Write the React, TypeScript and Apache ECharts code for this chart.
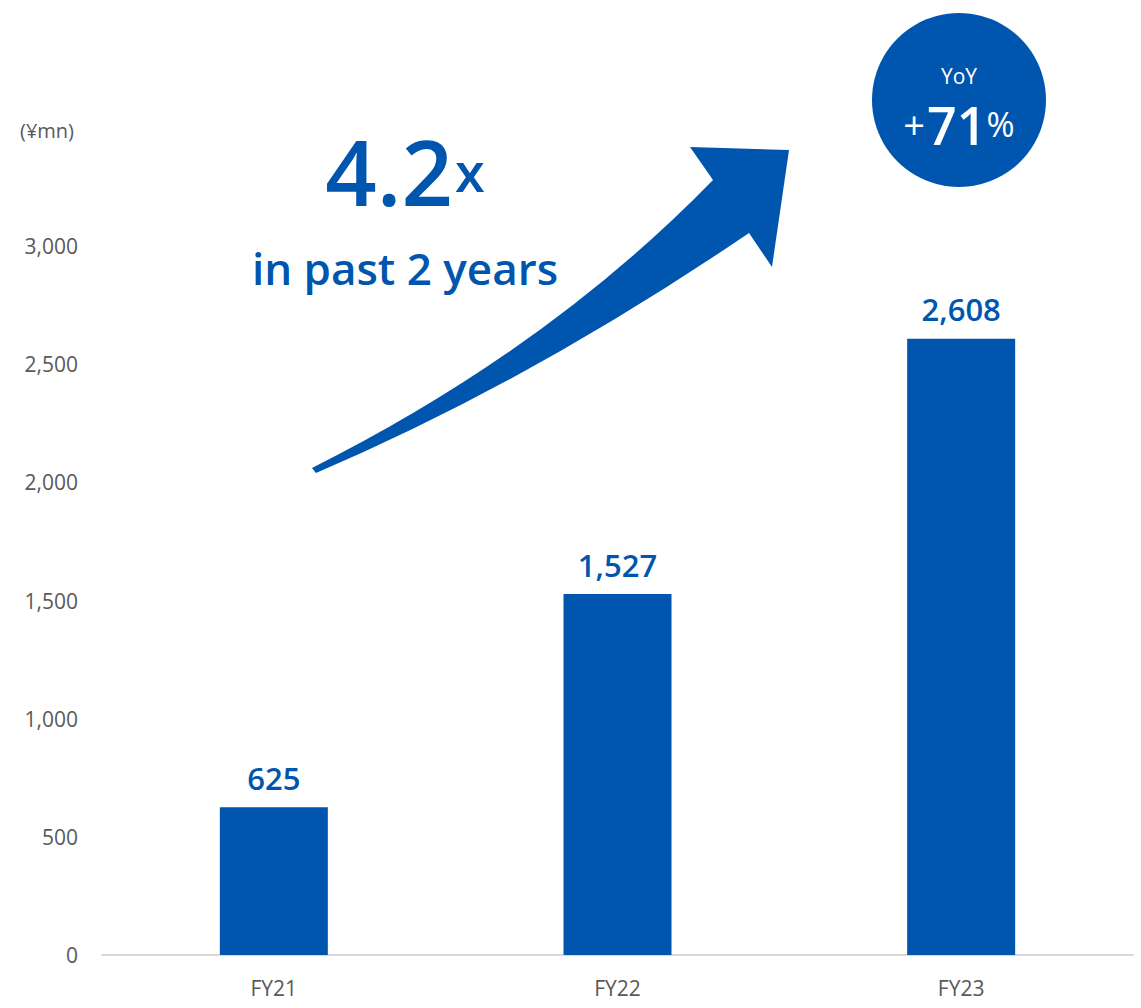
import React, { useEffect, useRef } from "react";
import * as echarts from "echarts";

const categories = ["FY21", "FY22", "FY23"];
const values = [625, 1527, 2608];
const yTicks = [0, 500, 1000, 1500, 2000, 2500, 3000];
const unitLabel = "(¥mn)";
const headline = "4.2";
const headlineSuffix = "x";
const subline = "in past 2 years";
const yoyTitle = "YoY";
const yoyValue = "71";

const BLUE = "#0056AE";
const FONT = "'Open Sans', 'Noto Sans', sans-serif";

const ARROW_D =
  "M312 468 Q547.5 350 713 180 L690 147 L789 150 L772 267 L749 233 Q531.5 381 316 473 Z";

let registered = false;
function ensureShape() {
  if (registered) return;
  echarts.graphic.registerShape("growthArrow", echarts.graphic.extendPath(ARROW_D, {}) as any);
  registered = true;
}

export default function App() {
  const ref = useRef<HTMLDivElement>(null);
  useEffect(() => {
    ensureShape();
    const chart = echarts.init(ref.current!, undefined, { renderer: "svg" });
    chart.setOption({
      animation: false,
      grid: { left: 102, right: 8, top: 246, bottom: 53, containLabel: false },
      xAxis: {
        type: "category",
        data: categories,
        axisLine: { lineStyle: { color: "#D9D9D9", width: 2 } },
        axisTick: { show: false },
        axisLabel: { color: "#595959", fontSize: 21, fontFamily: FONT, margin: 22 },
      },
      yAxis: {
        type: "value",
        min: yTicks[0],
        max: yTicks[yTicks.length - 1],
        interval: 500,
        splitLine: { show: false },
        axisLine: { show: false },
        axisTick: { show: false },
        axisLabel: {
          color: "#595959",
          fontSize: 21,
          fontFamily: FONT,
          margin: 24,
          formatter: (v: number) => v.toLocaleString("en-US"),
        },
      },
      series: [
        {
          type: "bar",
          data: values,
          barWidth: 108,
          itemStyle: { color: BLUE },
          label: {
            show: true,
            position: "top",
            distance: 14,
            color: BLUE,
            fontSize: 31,
            fontWeight: 600,
            fontFamily: FONT,
            formatter: (p: any) => Number(p.value).toLocaleString("en-US"),
          },
        },
      ],
      graphic: [
        {
          type: "text",
          left: 20,
          top: 120,
          style: { text: unitLabel, fill: "#595959", fontSize: 20, fontFamily: FONT },
        },
        {
          type: "growthArrow",
          x: 0,
          y: 0,
          style: { fill: BLUE },
        } as any,
        {
          type: "text",
          x: 405,
          y: 216,
          style: {
            text: `{a|${headline}}{b|${headlineSuffix}}`,
            align: "center",
            verticalAlign: "bottom",
            rich: {
              a: { fill: BLUE, fontSize: 90, fontWeight: 600, fontFamily: FONT },
              b: { fill: BLUE, fontSize: 54, fontWeight: 600, fontFamily: FONT, padding: [0, 0, 0, 2] },
            },
          },
        },
        {
          type: "text",
          x: 405,
          y: 268,
          style: {
            text: subline,
            fill: BLUE,
            fontSize: 44,
            fontWeight: 600,
            fontFamily: FONT,
            align: "center",
            verticalAlign: "middle",
          },
        },
        {
          type: "circle",
          shape: { cx: 959, cy: 100, r: 87 },
          style: { fill: BLUE },
        },
        {
          type: "text",
          x: 959,
          y: 76,
          style: {
            text: yoyTitle,
            fill: "#FFFFFF",
            fontSize: 21,
            fontFamily: FONT,
            align: "center",
            verticalAlign: "middle",
          },
        },
        {
          type: "text",
          x: 959,
          y: 150,
          style: {
            text: `{p|+}{n|${yoyValue}}{q|%}`,
            align: "center",
            verticalAlign: "bottom",
            rich: {
              p: { fill: "#FFFFFF", fontSize: 38, fontFamily: FONT, padding: [0, 2, 0, 0] },
              n: { fill: "#FFFFFF", fontSize: 52, fontWeight: 600, fontFamily: FONT },
              q: { fill: "#FFFFFF", fontSize: 34, fontFamily: FONT },
            },
          },
        },
      ],
    });
    return () => chart.dispose();
  }, []);
  return (
    <div
      ref={ref}
      style={{ position: "fixed", left: 0, top: 0, width: 1141, height: 1008, background: "#fff" }}
    />
  );
}
